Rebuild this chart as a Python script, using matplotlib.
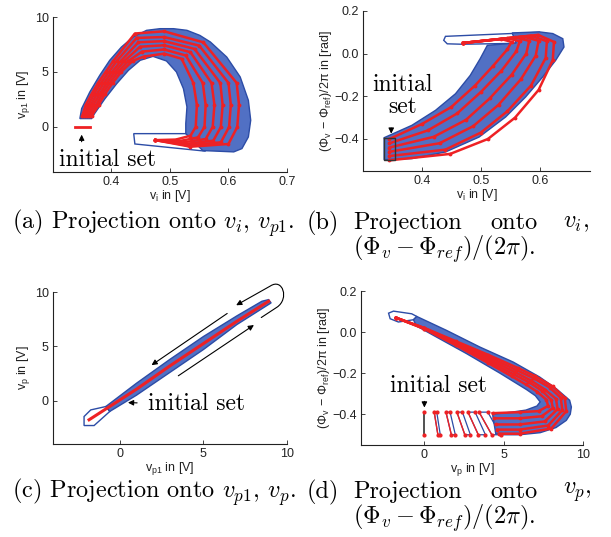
import numpy as np
import matplotlib
matplotlib.use('Agg')
import matplotlib.pyplot as plt
from matplotlib.path import Path
from matplotlib.patches import FancyArrowPatch

plt.rcParams['font.family'] = ['Liberation Sans', 'DejaVu Sans']
plt.rcParams['mathtext.fontset'] = 'cm'

BLUE_FILL = '#5170c4'
BLUE_EDGE = '#2c4ca6'
RED = '#ee2124'

# ---------------- panel (a): v_i vs v_p1 ----------------
a_band_x = [0.346, 0.349, 0.363, 0.380, 0.397, 0.417, 0.437, 0.460, 0.483, 0.506, 0.529, 0.551,
            0.569, 0.597, 0.620, 0.634, 0.638, 0.634, 0.623, 0.609, 0.556, 0.527,
            0.527, 0.529, 0.523, 0.511, 0.494, 0.471, 0.449, 0.429, 0.409, 0.389, 0.371, 0.366]
a_band_y = [0.76, 1.67, 3.18, 4.70, 6.06, 7.27, 8.18, 8.79, 8.94, 8.94, 8.79, 8.33,
            7.73, 6.36, 4.55, 2.42, 0.61, -0.91, -1.97, -2.27, -2.15, -0.61,
            0.30, 1.82, 3.48, 5.00, 6.00, 6.42, 6.06, 5.15, 3.94, 2.58, 1.21, 0.76]
a_tail_x = [0.438, 0.530, 0.575, 0.560, 0.440]
a_tail_y = [-0.61, -0.61, -1.20, -2.20, -1.55]
a_init_x = [0.337, 0.363]
a_init_y = [0.0, 0.0]
a_red_x = [
    [0.366, 0.378, 0.389, 0.402, 0.4165, 0.436, 0.455, 0.490, 0.520, 0.540, 0.546, 0.544, 0.535, 0.510, 0.475],
    [0.363, 0.374, 0.384, 0.397, 0.411, 0.429, 0.452, 0.490, 0.527, 0.556, 0.561, 0.559, 0.548, 0.515, 0.475],
    [0.360, 0.369, 0.380, 0.392, 0.406, 0.422, 0.449, 0.490, 0.535, 0.571, 0.576, 0.573, 0.561, 0.520, 0.475],
    [0.356, 0.365, 0.375, 0.387, 0.401, 0.416, 0.446, 0.490, 0.542, 0.586, 0.590, 0.587, 0.574, 0.525, 0.475],
    [0.353, 0.361, 0.370, 0.382, 0.3955, 0.409, 0.443, 0.490, 0.550, 0.600, 0.604, 0.601, 0.587, 0.530, 0.475],
    [0.350, 0.356, 0.366, 0.377, 0.390, 0.403, 0.440, 0.490, 0.557, 0.614, 0.618, 0.615, 0.600, 0.535, 0.475],
]
a_red_y = [
    [1.0, 2.0, 3.0, 4.0, 5.0, 6.0, 6.40, 6.67, 6.2, 4.0, 2.0, 0.0, -0.80, -1.15, -1.2],
    [1.0, 2.0, 3.0, 4.0, 5.0, 6.0, 6.85, 7.05, 6.5, 4.0, 2.0, 0.0, -0.95, -1.30, -1.2],
    [1.0, 2.0, 3.0, 4.0, 5.0, 6.0, 7.30, 7.43, 6.8, 4.0, 2.0, 0.0, -1.10, -1.42, -1.2],
    [1.0, 2.0, 3.0, 4.0, 5.0, 6.0, 7.70, 7.81, 7.1, 4.0, 2.0, 0.0, -1.25, -1.55, -1.2],
    [1.0, 2.0, 3.0, 4.0, 5.0, 6.0, 8.10, 8.18, 7.4, 4.0, 2.0, 0.0, -1.40, -1.68, -1.2],
    [1.0, 2.0, 3.0, 4.0, 5.0, 6.0, 8.50, 8.70, 7.7, 4.0, 2.0, 0.0, -1.55, -1.80, -1.2],
]

# ---------------- panel (b): v_i vs phase ----------------
b_band_x = [0.336, 0.383, 0.440, 0.497, 0.542, 0.576, 0.605, 0.627, 0.641, 0.639, 0.622, 0.599,
            0.553, 0.560, 0.511, 0.499, 0.482, 0.457, 0.423, 0.383, 0.336]
b_band_y = [-0.497, -0.492, -0.461, -0.391, -0.297, -0.203, -0.109, -0.031, 0.031, 0.070, 0.094, 0.102,
            0.097, 0.050, 0.039, -0.023, -0.102, -0.188, -0.266, -0.336, -0.394]
b_tail_x = [0.440, 0.600, 0.600, 0.468, 0.443, 0.437]
b_tail_y = [0.081, 0.100, 0.050, 0.044, 0.046, 0.0625]
b_init_x = [0.336, 0.355, 0.355, 0.336, 0.336]
b_init_y = [-0.394, -0.394, -0.497, -0.497, -0.394]
b_red_x = [
    [0.345, 0.400, 0.450, 0.490, 0.520, 0.545, 0.552, 0.535, 0.470],
    [0.345, 0.410, 0.460, 0.500, 0.535, 0.560, 0.566, 0.545, 0.470],
    [0.345, 0.420, 0.475, 0.515, 0.552, 0.577, 0.582, 0.558, 0.470],
    [0.345, 0.430, 0.487, 0.530, 0.568, 0.593, 0.598, 0.572, 0.470],
    [0.345, 0.440, 0.500, 0.545, 0.585, 0.610, 0.612, 0.585, 0.470],
    [0.345, 0.448, 0.512, 0.558, 0.598, 0.622, 0.624, 0.597, 0.470],
]
b_red_y = [
    [-0.40, -0.33, -0.25, -0.15, -0.06, 0.020, 0.055, 0.068, 0.050],
    [-0.42, -0.36, -0.28, -0.18, -0.08, 0.010, 0.058, 0.072, 0.050],
    [-0.44, -0.39, -0.31, -0.21, -0.10, 0.000, 0.060, 0.076, 0.050],
    [-0.46, -0.42, -0.34, -0.24, -0.12, -0.010, 0.060, 0.080, 0.050],
    [-0.48, -0.45, -0.37, -0.27, -0.15, -0.020, 0.058, 0.084, 0.050],
    [-0.50, -0.47, -0.40, -0.30, -0.17, -0.030, 0.055, 0.088, 0.050],
]

# ---------------- panel (c): v_p1 vs v_p ----------------
c_band_x = [-0.84, 1.0, 3.0, 5.0, 7.0, 8.5, 8.9, 9.05, 7.0, 5.0, 3.0, 1.0, -0.6]
c_band_y = [-0.55, 1.6, 3.8, 5.9, 7.8, 9.15, 9.3, 9.0, 7.0, 4.7, 2.6, 0.5, -1.0]
c_tail_x = [-2.14, -1.74, -0.84, -0.60, -1.54, -2.14]
c_tail_y = [-1.47, -0.86, -0.55, -1.00, -2.30, -2.30]
c_red_x = [-1.84, 1.0, 3.0, 5.0, 7.0, 8.9]
c_red_y = [-1.77, 1.05, 3.2, 5.25, 7.3, 9.15]

# ---------------- panel (d): v_p vs phase ----------------
d_band_x = [-0.69, -0.48, 1.40, 3.50, 5.60, 7.27, 8.32, 9.16, 9.27, 9.20, 8.95, 8.30, 7.30, 6.00,
            5.00, 4.50, 4.30, 5.50, 6.40, 7.10, 7.30, 7.00, 6.44, 4.76, 2.66, 0.57, -0.50]
d_band_y = [0.060, 0.076, 0.008, -0.073, -0.146, -0.219, -0.276, -0.332, -0.365, -0.400, -0.430, -0.465, -0.490, -0.500,
            -0.500, -0.495, -0.400, -0.390, -0.380, -0.360, -0.340, -0.310, -0.280, -0.200, -0.105, -0.016, 0.030]
d_tail_x = [-2.26, -2.16, -1.64, -0.69, -0.48, -0.80, -1.95]
d_tail_y = [0.092, 0.065, 0.049, 0.060, 0.076, 0.089, 0.102]
d_box_tl = [0.62, 1.36, 2.05, 2.75, 3.45]
d_box_tr = [0.78, 1.62, 2.40, 3.20, 4.00]
d_box_br = [1.00, 1.95, 2.90, 3.85, 4.80]
d_box_bl = [0.85, 1.70, 2.55, 3.40, 4.25]
d_box_top = -0.39
d_box_bot = -0.50
d_init_x = [0.0, 0.0]
d_init_y = [-0.39, -0.50]
d_red_x = [
    [4.3, 6.0, 7.2, 7.8, 7.7, 7.1, 6.4, 5.5, 4.0, 2.0, 0.0, -1.8],
    [4.4, 6.0, 7.4, 8.1, 8.0, 7.4, 6.6, 5.6, 4.0, 2.0, 0.0, -1.8],
    [4.5, 6.0, 7.6, 8.4, 8.3, 7.6, 6.7, 5.7, 4.0, 2.0, 0.0, -1.8],
    [4.6, 6.0, 7.8, 8.7, 8.6, 7.9, 6.9, 5.8, 4.0, 2.0, 0.0, -1.8],
    [4.7, 6.0, 8.0, 8.95, 8.85, 8.1, 7.0, 5.9, 4.0, 2.0, 0.0, -1.8],
]
d_red_y = [
    [-0.395, -0.39, -0.385, -0.36, -0.33, -0.29, -0.255, -0.215, -0.150, -0.065, 0.015, 0.07],
    [-0.42, -0.42, -0.41, -0.37, -0.33, -0.285, -0.245, -0.205, -0.140, -0.060, 0.017, 0.07],
    [-0.45, -0.45, -0.435, -0.375, -0.325, -0.28, -0.235, -0.195, -0.130, -0.055, 0.018, 0.07],
    [-0.475, -0.475, -0.455, -0.38, -0.32, -0.27, -0.225, -0.185, -0.120, -0.050, 0.019, 0.07],
    [-0.495, -0.495, -0.47, -0.385, -0.32, -0.265, -0.215, -0.175, -0.110, -0.045, 0.020, 0.07],
]

captions = ['(a) Projection onto $v_i$, $v_{p1}$.',
            '(c) Projection onto $v_{p1}$, $v_p$.']

# arrows in (c): straight ones (tail -> head) and the hairpin turn
c_arrows = [((3.36, 2.14), (8.16, 7.10)), ((6.56, 8.17), (1.76, 3.12)), ((1.20, -0.22), (0.32, -0.18))]
c_loop = [(8.46, 7.65), (9.40, 8.60), (10.15, 9.37), (9.75, 11.32), (9.00, 10.55), (6.96, 8.78)]


def style(ax, xlim, ylim, xticks, yticks, xlabel, ylabel, ypad=2):
    ax.set_xlim(xlim)
    ax.set_ylim(ylim)
    ax.set_xticks(xticks)
    ax.set_yticks(yticks)
    ax.spines['top'].set_visible(False)
    ax.spines['right'].set_visible(False)
    for s in ['left', 'bottom']:
        ax.spines[s].set_linewidth(0.8)
        ax.spines[s].set_color('#222222')
    ax.tick_params(direction='in', length=3, width=0.6, labelsize=9, colors='#222222', pad=3)
    ax.set_xlabel(xlabel, fontsize=9, labelpad=0, color='#222222')
    ax.set_ylabel(ylabel, fontsize=9, labelpad=ypad, color='#222222')


def band(ax, bx, by, tx, ty):
    ax.fill(tx, ty, facecolor='white', edgecolor=BLUE_EDGE, lw=1.0, zorder=2)
    ax.fill(bx, by, facecolor=BLUE_FILL, edgecolor=BLUE_EDGE, lw=1.0, zorder=3)


def reds(ax, rx, ry, lw=1.8):
    for x, y in zip(rx, ry):
        ax.plot(x, y, color=RED, lw=lw, marker='.', ms=3.5, zorder=5)


fig = plt.figure(figsize=(6.11, 5.37), dpi=100)
ax_a = fig.add_axes([0.0867, 0.6797, 0.383, 0.2886])
ax_b = fig.add_axes([0.594, 0.6816, 0.3715, 0.298])
ax_c = fig.add_axes([0.0867, 0.1732, 0.383, 0.283])
ax_d = fig.add_axes([0.5908, 0.1713, 0.3633, 0.2868])

phase_lbl = '(Φ$_\\mathregular{v}$ − Φ$_\\mathregular{ref}$)/2π in [rad]'
arr = dict(arrowstyle='-|>', color='black', lw=0.8, mutation_scale=8)

# (a)
band(ax_a, a_band_x, a_band_y, a_tail_x, a_tail_y)
reds(ax_a, a_red_x, a_red_y)
ax_a.plot(a_init_x, a_init_y, color=RED, lw=2, zorder=5)
style(ax_a, (0.3, 0.7), (-4.1, 10), [0.4, 0.5, 0.6, 0.7], [0, 5, 10],
      r'$\mathregular{v_i}$ in [V]', r'$\mathregular{v_{p1}}$ in [V]')
ax_a.annotate('', xy=(0.349, -0.45), xytext=(0.349, -1.6), arrowprops=arr)
ax_a.text(0.311, -3.0, 'initial set', family='cmr10', fontsize=17, va='center', ha='left')

# (b)
band(ax_b, b_band_x, b_band_y, b_tail_x, b_tail_y)
reds(ax_b, b_red_x, b_red_y)
ax_b.plot(b_init_x, b_init_y, color='#333333', lw=1.0, zorder=6)
style(ax_b, (0.3, 0.685), (-0.55, 0.2), [0.4, 0.5, 0.6], [-0.4, -0.2, 0, 0.2],
      r'$\mathregular{v_i}$ in [V]', phase_lbl, ypad=0)
ax_b.annotate('', xy=(0.348, -0.388), xytext=(0.348, -0.336), arrowprops=arr)
ax_b.text(0.367, -0.2, 'initial\nset', family='cmr10', fontsize=17, va='center', ha='center',
          linespacing=1.0)

# (c)
band(ax_c, c_band_x, c_band_y, c_tail_x, c_tail_y)
ax_c.plot(c_red_x, c_red_y, color=RED, lw=2.2, zorder=5)
style(ax_c, (-4, 10), (-4, 10), [0, 5, 10], [0, 5, 10],
      r'$\mathregular{v_{p1}}$ in [V]', r'$\mathregular{v_p}$ in [V]')
for tail, head in c_arrows:
    ax_c.annotate('', xy=head, xytext=tail, arrowprops=arr)
loop = Path(c_loop, [Path.MOVETO, Path.LINETO, Path.CURVE4, Path.CURVE4, Path.CURVE4, Path.LINETO])
ax_c.add_patch(FancyArrowPatch(path=loop, arrowstyle='-|>', color='black', lw=0.8,
                               mutation_scale=8, clip_on=False))
ax_c.text(1.66, -0.3, 'initial set', family='cmr10', fontsize=17, va='center', ha='left')

# (d)
ax_d.fill(d_tail_x, d_tail_y, facecolor='white', edgecolor=BLUE_EDGE, lw=1.0, zorder=2)
for tl, tr, br, bl in zip(d_box_tl, d_box_tr, d_box_br, d_box_bl):
    ax_d.fill([tl, tr, br, bl], [d_box_top, d_box_top, d_box_bot, d_box_bot],
              facecolor='white', edgecolor=BLUE_EDGE, lw=0.9, zorder=2)
    ax_d.plot([tl, bl], [d_box_top, d_box_bot], color=RED, lw=1.0, marker='.', ms=4, zorder=5)
    ax_d.plot([tr, br], [d_box_top, d_box_bot], color=RED, lw=0, marker='.', ms=4, zorder=5)
ax_d.fill(d_band_x, d_band_y, facecolor=BLUE_FILL, edgecolor=BLUE_EDGE, lw=1.0, zorder=3)
reds(ax_d, d_red_x, d_red_y)
ax_d.plot(d_init_x, d_init_y, color='#333333', lw=1.2, zorder=6)
ax_d.plot(d_init_x, d_init_y, color=RED, lw=0, marker='.', ms=4, zorder=6)
style(ax_d, (-4, 10), (-0.55, 0.2), [0, 5, 10], [-0.4, -0.2, 0, 0.2],
      r'$\mathregular{v_p}$ in [V]', phase_lbl, ypad=0)
ax_d.annotate('', xy=(0.0, -0.381), xytext=(0.0, -0.324), arrowprops=arr)
ax_d.text(-2.2, -0.26, 'initial set', family='cmr10', fontsize=17, va='center', ha='left')

# captions
fs = 17.5
for cap, lab, var, y1 in [(captions[0], '(b)', '$v_i$,', 223), (captions[1], '(d)', '$v_p$,', 492)]:
    fig.text(12 / 611, 1 - y1 / 537, cap, family='cmr10', fontsize=fs, va='center')
    fig.text(307 / 611, 1 - y1 / 537, lab, family='cmr10', fontsize=fs, va='center')
    fig.text(353 / 611, 1 - y1 / 537, 'Projection', family='cmr10', fontsize=fs, va='center')
    fig.text(490 / 611, 1 - y1 / 537, 'onto', family='cmr10', fontsize=fs, va='center')
    fig.text(563 / 611, 1 - y1 / 537, var, family='cmr10', fontsize=fs, va='center')
    fig.text(353 / 611, 1 - (y1 + 26) / 537, r'$(\Phi_v - \Phi_{ref})/(2\pi)$.', family='cmr10',
             fontsize=fs, va='center')

fig.savefig('out.png', dpi=100)
